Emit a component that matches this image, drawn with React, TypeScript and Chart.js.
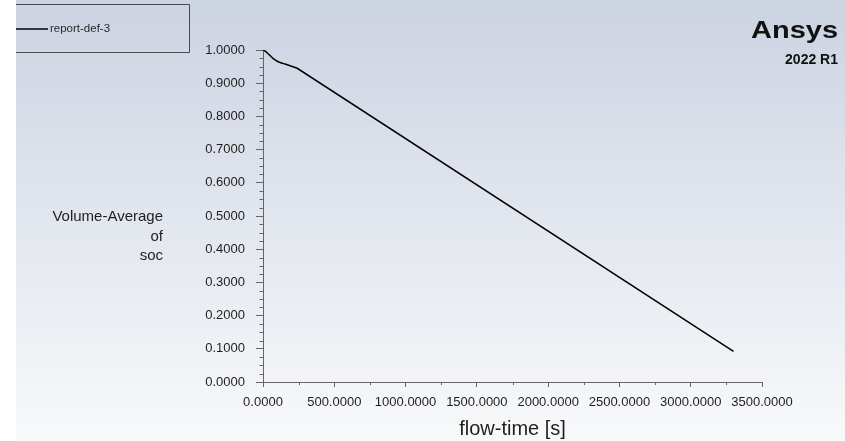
import React, { useEffect, useRef } from "react";
import { Chart, registerables } from "chart.js";

Chart.register(...registerables);

// flow-time [s] and volume-averaged state of charge for report-def-3
const flowTime = [0, 10, 20, 30, 40, 50, 60, 70, 80, 90, 100, 115, 130, 145, 160, 180, 200, 220, 240, 3300];
const socValues = [
  1.0, 0.998, 0.995, 0.991, 0.987, 0.983, 0.979, 0.975, 0.972, 0.969, 0.966, 0.963, 0.961, 0.959,
  0.957, 0.954, 0.951, 0.948, 0.945, 0.092,
];

const xTickStep = 500;
const xMinorStep = 250;
const yTickStep = 0.1;
const yMinorStep = 0.025;

const seriesName = "report-def-3";
const yTitleLines = ["Volume-Average", "of", "soc"];
const xTitle = "flow-time [s]";
const brandName = "Ansys";
const brandRelease = "2022 R1";

const FONT = "'Liberation Sans', Arial, sans-serif";
const W = 845;
const H = 441;

const decorPlugin = {
  id: "fluentDecor",
  beforeDraw(chart: any) {
    const ctx = chart.ctx as CanvasRenderingContext2D;
    ctx.save();
    ctx.fillStyle = "#ffffff";
    ctx.fillRect(0, 0, W, H);
    const g = ctx.createLinearGradient(0, 0, 0, H);
    g.addColorStop(0, "#ccd3e1");
    g.addColorStop(0.5, "#e2e6ee");
    g.addColorStop(1, "#f8f9fa");
    ctx.fillStyle = g;
    ctx.fillRect(16, 0, W - 16, H);
    ctx.restore();
  },
  afterDraw(chart: any) {
    const ctx = chart.ctx as CanvasRenderingContext2D;
    const xs = chart.scales.x;
    const ys = chart.scales.y;
    const area = chart.chartArea;
    ctx.save();

    // minor ticks
    ctx.strokeStyle = "#666666";
    ctx.lineWidth = 1;
    ctx.beginPath();
    for (let v = 0; v <= ys.max + 1e-9; v += yMinorStep) {
      const r = v / yTickStep;
      if (Math.abs(r - Math.round(r)) < 1e-6) continue;
      const py = Math.round(ys.getPixelForValue(v)) + 0.5;
      ctx.moveTo(area.left - 3.5, py);
      ctx.lineTo(area.left, py);
    }
    for (let v = 0; v <= xs.max + 1e-9; v += xMinorStep) {
      if (v % xTickStep === 0) continue;
      const px = Math.round(xs.getPixelForValue(v)) + 0.5;
      ctx.moveTo(px, area.bottom);
      ctx.lineTo(px, area.bottom + 3);
    }
    ctx.stroke();

    // legend box
    ctx.strokeStyle = "#4a4a4a";
    ctx.beginPath();
    ctx.moveTo(16, 4.5);
    ctx.lineTo(189.5, 4.5);
    ctx.lineTo(189.5, 52.5);
    ctx.lineTo(16, 52.5);
    ctx.stroke();
    ctx.strokeStyle = "#000000";
    ctx.lineWidth = 1.5;
    ctx.beginPath();
    ctx.moveTo(16, 29);
    ctx.lineTo(48, 29);
    ctx.stroke();
    ctx.fillStyle = "#2a2a2a";
    ctx.font = `11.5px ${FONT}`;
    ctx.textAlign = "left";
    ctx.textBaseline = "middle";
    ctx.fillText(seriesName, 50, 29);

    // y axis title
    ctx.fillStyle = "#1e1e1e";
    ctx.font = `15px ${FONT}`;
    ctx.textAlign = "right";
    ctx.textBaseline = "middle";
    const lineYs = [217, 236.5, 256];
    yTitleLines.forEach((t, i) => ctx.fillText(t, 163, lineYs[i]));

    // x axis title
    ctx.font = `20px ${FONT}`;
    ctx.textAlign = "center";
    ctx.fillText(xTitle, (area.left + area.right) / 2, 429);

    // brand
    ctx.fillStyle = "#111111";
    ctx.textAlign = "right";
    ctx.textBaseline = "alphabetic";
    ctx.save();
    ctx.translate(838, 38);
    ctx.scale(1.26, 1);
    ctx.font = `bold 23px ${FONT}`;
    ctx.fillText(brandName, 0, 0);
    ctx.restore();
    ctx.font = `bold 14px ${FONT}`;
    ctx.fillText(brandRelease, 838, 63.5);

    ctx.restore();
  },
};

export default function App() {
  const canvasRef = useRef<HTMLCanvasElement | null>(null);

  useEffect(() => {
    document.body.style.margin = "0";
    const canvas = canvasRef.current;
    if (!canvas) return;
    const points = flowTime.map((t, i) => ({ x: t, y: socValues[i] }));
    const tickFont = { family: FONT, size: 13 };
    const chart = new Chart(canvas, {
      type: "scatter",
      data: {
        datasets: [
          {
            label: seriesName,
            data: points,
            showLine: true,
            borderColor: "#000000",
            borderWidth: 1.5,
            pointRadius: 0,
            tension: 0,
          },
        ],
      },
      options: {
        responsive: false,
        animation: false,
        devicePixelRatio: 1,
        layout: { padding: { left: 0, top: 50, right: 83, bottom: 0 } },
        plugins: {
          legend: { display: false },
          tooltip: { enabled: false },
        },
        scales: {
          x: {
            type: "linear",
            min: 0,
            max: 3500,
            afterFit: (s: any) => {
              s.height = 59;
            },
            ticks: {
              stepSize: xTickStep,
              autoSkip: false,
              maxRotation: 0,
              padding: 8,
              color: "#1e1e1e",
              font: tickFont,
              callback: (v: any) => Number(v).toFixed(4),
            },
            grid: {
              drawOnChartArea: false,
              drawTicks: true,
              tickLength: 5,
              tickColor: "#666666",
            },
            border: { color: "#666666", width: 1 },
          },
          y: {
            type: "linear",
            min: 0,
            max: 1,
            afterFit: (s: any) => {
              s.width = 263;
            },
            ticks: {
              stepSize: yTickStep,
              padding: 11,
              color: "#1e1e1e",
              font: tickFont,
              callback: (v: any) => Number(v).toFixed(4),
            },
            grid: {
              drawOnChartArea: false,
              drawTicks: true,
              tickLength: 7,
              tickColor: "#666666",
            },
            border: { color: "#666666", width: 1 },
          },
        },
      },
      plugins: [decorPlugin],
    });
    return () => chart.destroy();
  }, []);

  return (
    <div style={{ position: "fixed", left: 0, top: 0, width: W, height: H }}>
      <canvas ref={canvasRef} width={W} height={H} style={{ display: "block", width: W, height: H }} />
    </div>
  );
}
